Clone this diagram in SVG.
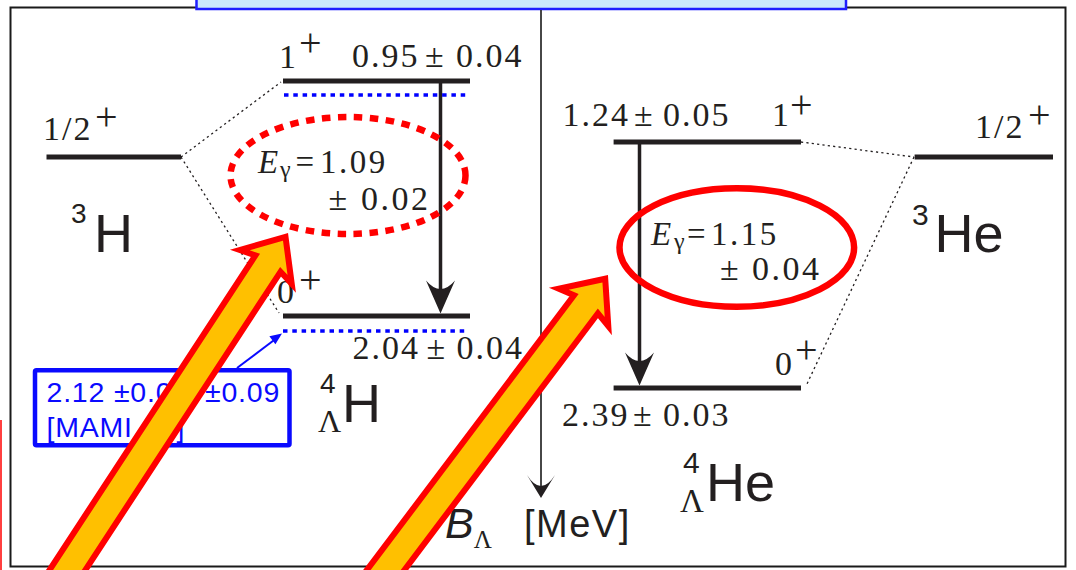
<svg xmlns="http://www.w3.org/2000/svg" width="1076" height="570" viewBox="0 0 1076 570">
<defs>
<style>
.num{font-family:"Liberation Serif","Times New Roman",serif;font-size:34px;fill:#231f20;letter-spacing:2px}
.plus{font-family:"Liberation Serif","Times New Roman",serif;font-size:40px;fill:#231f20}
.sans{font-family:"Liberation Sans",Arial,sans-serif;fill:#231f20}
.lam{font-family:"Liberation Serif","Times New Roman",serif;fill:#231f20}
.level{stroke:#231f20;stroke-width:5}
.mirror{stroke:#0000ff;stroke-width:3.5;stroke-dasharray:4.5 4.8}
.dot{stroke:#231f20;stroke-width:1.3;stroke-dasharray:2.2 3.2;fill:none}
.trans{stroke:#231f20;stroke-width:3.5}
.big{fill:#ffc000;stroke:#ff0000;stroke-width:6;stroke-linejoin:miter;stroke-miterlimit:10}
.blue{font-family:"Liberation Sans",Arial,sans-serif;font-size:28.5px;fill:#0a0aff;letter-spacing:0.8px}
</style>
<path id="headT" d="M0,0 L-14.5,-33 Q0,-16 14.5,-33 Z" fill="#231f20"/>
<path id="headA" d="M0,0 L-14,-23 Q0,-1 14,-23 Z" fill="#231f20"/>
<polygon id="bigArrow" class="big" points="0,0 -36,-31 -32,-15 -440,-15 -440,15 -32,15 -36,31"/>
</defs>

<rect width="1076" height="570" fill="#ffffff"/>

<g id="frame">
<rect x="10.5" y="7.5" width="1055" height="559" fill="none" stroke="#1a1a1a" stroke-width="2"/>
<rect x="196.5" y="-4" width="649.5" height="13" fill="#cce9fc" stroke="#1f1fff" stroke-width="2.5"/>
<line x1="1" y1="420" x2="1" y2="570" stroke="#ff0000" stroke-width="1.5"/>
</g>

<g id="axis">
<line x1="541" y1="10" x2="541" y2="490" stroke="#333333" stroke-width="1.8"/>
<use href="#headA" x="541" y="498"/>
<text class="sans" x="445" y="538" font-size="43" font-style="italic">B<tspan class="lam" font-style="normal" font-size="25" dy="10">Λ</tspan><tspan x="524" y="537" font-style="normal" font-size="38" letter-spacing="1.5">[MeV]</tspan></text>
</g>

<g id="connectors">
<line class="dot" x1="181" y1="157" x2="281" y2="82"/>
<line class="dot" x1="181" y1="157" x2="279" y2="313"/>
<line class="dot" x1="801" y1="142" x2="914" y2="157"/>
<line class="dot" x1="914" y1="157" x2="806" y2="386"/>
<line class="trans" x1="440.5" y1="81" x2="440.5" y2="295"/>
<use href="#headT" x="440.5" y="313.5"/>
<line class="trans" x1="639.5" y1="142" x2="639.5" y2="365"/>
<use href="#headT" x="639.5" y="385.5"/>
<line x1="237" y1="368" x2="273.5" y2="340.5" stroke="#0a0aff" stroke-width="2"/>
<polygon points="282,333.5 275.4,344.2 269.4,336.2" fill="#0a0aff"/>
</g>

<g id="H3">
<line class="level" x1="46.5" y1="157" x2="181" y2="157"/>
<text class="num" x="43" y="140" letter-spacing="0">1/2<tspan class="plus" x="95" y="130">+</tspan></text>
<text class="sans" x="71" y="223" font-size="28">3<tspan x="94" y="252" font-size="54">H</tspan></text>
</g>

<g id="H4L-1plus">
<line class="level" x1="283" y1="81" x2="470" y2="81"/>
<line class="mirror" x1="284" y1="95" x2="468" y2="95"/>
<text class="num" x="279" y="68">1<tspan class="plus" x="299" y="56">+</tspan></text>
<text class="num" y="67"><tspan x="352">0.95</tspan><tspan x="425">±</tspan><tspan x="456">0.04</tspan></text>
</g>

<g id="H4L-0plus">
<line class="level" x1="283" y1="316" x2="470" y2="316"/>
<line class="mirror" x1="283" y1="331" x2="467" y2="331"/>
<text class="num" x="277" y="303">0<tspan class="plus" x="299" y="293">+</tspan></text>
<text class="num" y="359"><tspan x="352.5">2.04</tspan><tspan x="426.5">±</tspan><tspan x="456.5">0.04</tspan></text>
<text class="sans" x="320" y="393" font-size="28">4</text>
<text class="lam" x="318" y="431.7" font-size="32">Λ</text>
<text class="sans" x="342" y="421.7" font-size="54">H</text>
</g>

<g id="mami">
<rect x="35" y="370.3" width="254.5" height="75" fill="#ffffff" stroke="#0a0aff" stroke-width="4.5" rx="1.5"/>
<text class="blue" x="46.5" y="401.7">2.12 ±0.01 <tspan x="205">±0.09</tspan></text>
<text class="blue" x="46.5" y="436.7">[MAMI A1]</text>
</g>

<g id="He4L-1plus">
<line class="level" x1="613.6" y1="142" x2="801" y2="142"/>
<text class="num" y="126"><tspan x="562.5">1.24</tspan><tspan x="634">±</tspan><tspan x="663">0.05</tspan></text>
<text class="num" x="772" y="126">1<tspan class="plus" x="790" y="118">+</tspan></text>
</g>

<g id="He4L-0plus">
<line class="level" x1="613.6" y1="388" x2="801" y2="388"/>
<text class="num" x="775" y="375">0<tspan class="plus" x="795" y="363">+</tspan></text>
<text class="num" y="425.7"><tspan x="562">2.39</tspan><tspan x="633">±</tspan><tspan x="663">0.03</tspan></text>
<text class="sans" x="683" y="473" font-size="30">4</text>
<text class="lam" x="680" y="512" font-size="33">Λ</text>
<text class="sans" x="706" y="500.7" font-size="54">He</text>
</g>

<g id="He3">
<line class="level" x1="914.6" y1="157" x2="1053" y2="157"/>
<text class="num" x="975" y="138" letter-spacing="0">1/2<tspan class="plus" x="1028" y="128">+</tspan></text>
<text class="sans" x="912" y="225" font-size="30">3<tspan x="934.5" y="252" font-size="54">He</tspan></text>
</g>

<g id="gamma-left">
<ellipse cx="348" cy="175.5" rx="117.5" ry="58.5" fill="none" stroke="#ff0000" stroke-width="6.5" stroke-dasharray="8.5 7.5"/>
<text class="num" y="173" letter-spacing="0"><tspan x="258" font-style="italic" font-size="33">E</tspan><tspan x="280" y="177" font-size="24">γ</tspan><tspan x="295.5" y="173" font-size="33">=</tspan><tspan x="320" font-size="33" letter-spacing="2.5">1.09</tspan></text>
<text class="num" y="210" font-size="33"><tspan x="328.5">±</tspan><tspan x="361" letter-spacing="2.5">0.02</tspan></text>
</g>

<g id="gamma-right">
<ellipse cx="736.8" cy="247.5" rx="117.3" ry="59.3" fill="none" stroke="#ff0000" stroke-width="6.5"/>
<text class="num" y="245" letter-spacing="0"><tspan x="651" font-style="italic" font-size="33">E</tspan><tspan x="674" y="249" font-size="24">γ</tspan><tspan x="687" y="245" font-size="33">=</tspan><tspan x="711" font-size="33" letter-spacing="2.5">1.15</tspan></text>
<text class="num" y="280" font-size="33"><tspan x="720">±</tspan><tspan x="752" letter-spacing="2.5">0.04</tspan></text>
</g>

<g id="big-arrow-1">
<use href="#bigArrow" transform="translate(285.5,236.8) rotate(-56.8)"/>
</g>
<g id="big-arrow-2">
<use href="#bigArrow" transform="translate(605.2,278.7) rotate(-53)"/>
</g>
</svg>
